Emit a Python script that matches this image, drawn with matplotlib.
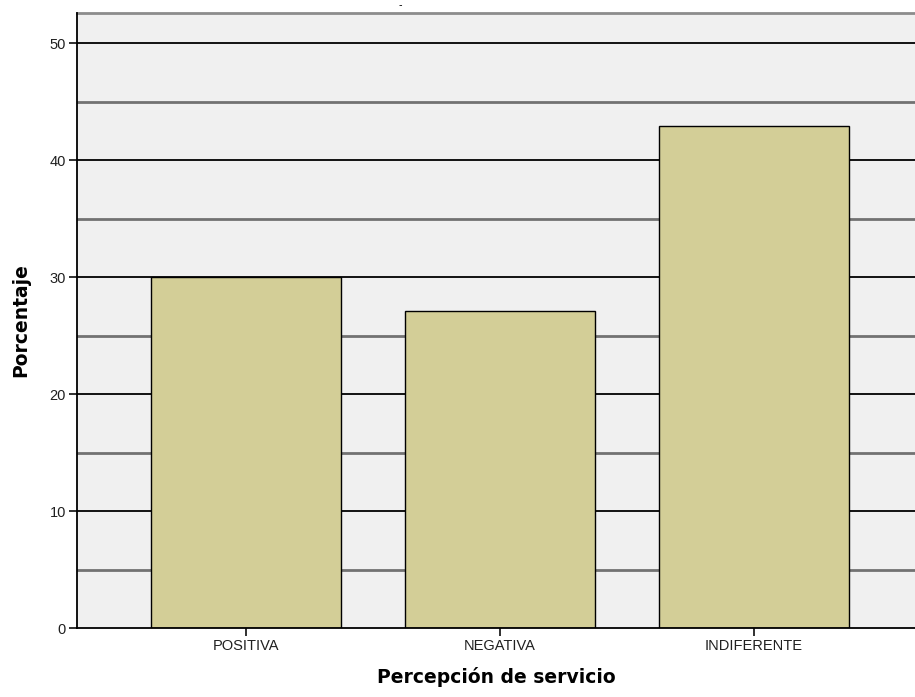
import matplotlib.pyplot as plt
import numpy as np

categorias = ["POSITIVA", "NEGATIVA", "INDIFERENTE"]
porcentaje = [30.0, 27.1, 42.9]

fig = plt.figure(figsize=(9.15, 6.97), dpi=100)
ax = fig.add_axes([77/915, 69/697, 1 - 77/915, (628 - 12.7)/697])
ax.set_facecolor("#f0f0f0")

x = np.arange(len(categorias))
# grid: black at the tens, grey at the fives
for v in range(5, 55, 10):
    ax.axhline(v, color="#727272", lw=2.0, zorder=1)
for v in range(10, 51, 10):
    ax.axhline(v, color="black", lw=1.3, zorder=1)
ax.axhline(52.6, color="#8c8c8c", lw=2.0, zorder=1, clip_on=False)

ax.bar(x, porcentaje, width=190/254, color="#d3ce97", edgecolor="black",
       linewidth=1.0, zorder=2)

ax.set_xlim(-169/254, 669/254)
ax.set_ylim(0, 52.6)
ax.set_yticks(range(0, 51, 10))
ax.set_xticks(x)
ax.set_xticklabels(categorias)

for s in ["top", "right"]:
    ax.spines[s].set_visible(False)
for s in ["left", "bottom"]:
    ax.spines[s].set_linewidth(1.3)

ax.tick_params(axis="both", direction="out", length=6, width=1.3,
               labelsize=10.5, colors="#202020", pad=2)
for lbl in ax.get_xticklabels() + ax.get_yticklabels():
    lbl.set_family("Liberation Sans")

ax.set_ylabel("Porcentaje", fontsize=13.5, fontweight="bold",
              family="DejaVu Sans", labelpad=14)
ax.set_xlabel("Percepción de servicio", fontsize=13.5, fontweight="bold",
              family="DejaVu Sans", labelpad=10)
fig.text(400/915, 1 - 5/697, "-", fontsize=7, ha="center", va="center")

fig.savefig("out.png", dpi=100)
